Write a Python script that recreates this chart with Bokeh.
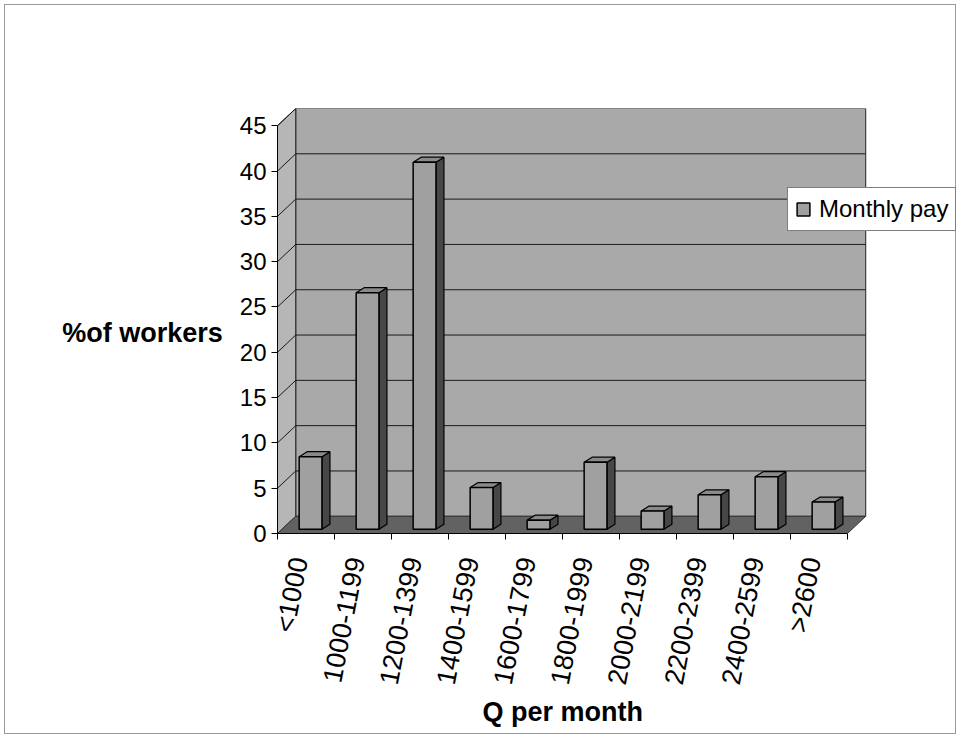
import numpy as np
from bokeh.plotting import figure
from bokeh.models import (Range1d, FixedTicker, Legend, LegendItem, Title)
from bokeh.embed import file_html
from bokeh.resources import INLINE

# ---- data ----
categories = ["<1000", "1000-1199", "1200-1399", "1400-1599", "1600-1799",
              "1800-1999", "2000-2199", "2200-2399", "2400-2599", ">2600"]
monthly_pay = [8.0, 26.1, 40.5, 4.6, 1.0, 7.4, 2.0, 3.8, 5.8, 3.0]
y_ticks = [0, 5, 10, 15, 20, 25, 30, 35, 40, 45]
series_name = "Monthly pay"
x_title = "Q per month"
y_title = "%of workers"

# ---- 3D-look geometry (in data units) ----
n = len(categories)
ymax = 45
DX, DY = 0.32, 1.9          # depth of the chart box
F = 0.25                    # depth position of bar fronts
BW = 0.40                   # bar width
SX, SY = 0.14, 0.55         # bar side/top depth
X_END = 11.93               # empty room on the right for the legend
LABEL_SHIFT = -0.12         # rotated labels sit a bit left of the category centre

FONT = "Liberation Sans"

p = figure(width=952, height=730, output_backend="svg", toolbar_location=None,
           x_range=Range1d(0, X_END), y_range=Range1d(0, ymax + DY),
           min_border_left=272, min_border_right=0, min_border_top=103,
           min_border_bottom=202)
p.outline_line_color = None
p.xgrid.visible = False
p.ygrid.visible = False
p.background_fill_color = "white"
p.border_fill_color = "white"
p.styles = {"border": "1px solid #9a9a9a", "margin-left": "4px", "margin-top": "4px"}

# back wall
p.patch([DX, n + DX, n + DX, DX], [DY, DY, ymax + DY, ymax + DY],
        fill_color="#a9a9a9", line_color="#222222", line_width=1)
# left wall
p.patch([0, DX, DX, 0], [0, DY, ymax + DY, ymax],
        fill_color="#b6b6b6", line_color="#222222", line_width=1)
# floor
p.patch([0, n, n + DX, DX], [0, 0, DY, DY],
        fill_color="#626262", line_color="#333333", line_width=1)

# gridlines on the walls
gv = np.array(y_ticks[1:-1], dtype=float)
p.segment(x0=[DX] * len(gv), y0=gv + DY, x1=[n + DX] * len(gv), y1=gv + DY,
          line_color="#1a1a1a", line_width=1)
gv2 = np.array(y_ticks[1:], dtype=float)
p.segment(x0=[0] * len(gv2), y0=gv2, x1=[DX] * len(gv2), y1=gv2 + DY,
          line_color="#1a1a1a", line_width=1)

# bars
vals = np.array(monthly_pay)
centers = np.arange(n) + 0.5 + F * DX
left = centers - BW / 2
right = centers + BW / 2
bottom = np.full(n, F * DY)
top = bottom + vals

side_xs = [[r, r + SX, r + SX, r] for r in right]
side_ys = [[b, b + SY, t + SY, t] for b, t in zip(bottom, top)]
top_xs = [[l, r, r + SX, l + SX] for l, r in zip(left, right)]
top_ys = [[t, t, t + SY, t + SY] for t in top]

p.patches(side_xs, side_ys, fill_color="#474747", line_color="black", line_width=1.2)
p.patches(top_xs, top_ys, fill_color="#8a8a8a", line_color="black", line_width=1.2)
front = p.quad(left=left, right=right, bottom=bottom, top=top,
               fill_color="#a0a0a0", line_color="black", line_width=1.5)

# axes
yax = p.yaxis[0]
yax.ticker = FixedTicker(ticks=y_ticks)
yax.bounds = (0, ymax)
yax.axis_line_color = "black"
yax.major_tick_line_color = "black"
yax.major_tick_out = 6
yax.major_tick_in = 0
yax.minor_tick_line_color = None
yax.major_label_text_font = FONT
yax.major_label_text_font_size = "24px"
yax.major_label_text_color = "black"
yax.major_label_standoff = 5
yax.axis_label = "\n" + y_title
yax.axis_label_orientation = "horizontal"
yax.axis_label_text_font = FONT
yax.axis_label_text_font_size = "27px"
yax.axis_label_text_font_style = "bold"
yax.axis_label_text_color = "black"
yax.axis_label_text_line_height = 0.8
yax.axis_label_standoff = 14

xax = p.xaxis[0]
cat_pos = list(np.arange(n) + 0.5 + LABEL_SHIFT)
xax.ticker = FixedTicker(ticks=cat_pos, minor_ticks=list(range(n + 1)))
xax.major_label_overrides = {float(c): lab for c, lab in zip(cat_pos, categories)}
xax.bounds = (0, n)
xax.axis_line_color = "black"
xax.major_tick_in = 0
xax.major_tick_out = 0
xax.minor_tick_in = 0
xax.minor_tick_out = 6
xax.minor_tick_line_color = "black"
xax.major_label_orientation = 1.38
xax.major_label_text_font = FONT
xax.major_label_text_font_size = "27px"
xax.major_label_text_color = "black"
xax.major_label_standoff = 18

# x title below the axis, centred under the categories
p.add_layout(Title(text=x_title, align="left", offset=205, standoff=4,
                   text_font=FONT, text_font_size="27px", text_font_style="bold",
                   text_color="black"), "below")

# legend
leg = Legend(items=[LegendItem(label=series_name, renderers=[front])],
             location=(510, 302))
leg.label_text_font = FONT
leg.label_text_font_size = "24px"
leg.label_text_color = "black"
leg.glyph_width = 16
leg.glyph_height = 16
leg.label_standoff = 8
leg.padding = 7
leg.margin = 0
leg.border_line_color = "black"
leg.border_line_width = 1
leg.background_fill_color = "white"
leg.background_fill_alpha = 1
p.add_layout(leg)

open("out.html", "w").write(file_html(p, INLINE))
